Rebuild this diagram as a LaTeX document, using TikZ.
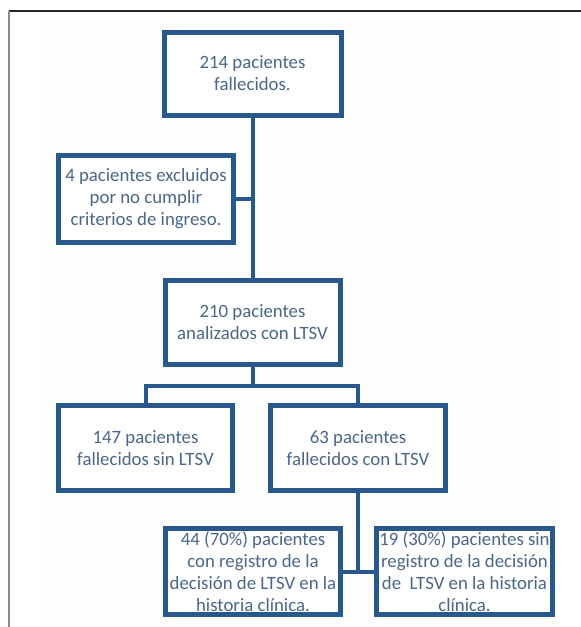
\documentclass[tikz,border=0pt]{standalone}
\usepackage{fontspec}
\setmainfont{Carlito}
\usetikzlibrary{shadows}
\definecolor{boxblue}{RGB}{40,88,140}
\definecolor{txt}{RGB}{74,102,136}
\begin{document}
\begin{tikzpicture}[x=1pt,y=-1pt,
  box/.style={draw=boxblue, line width=5pt, fill=white, text=txt, align=center,
    font=\fontsize{18.8}{22}\selectfont, inner sep=0pt,
    drop shadow={opacity=0.2, shadow xshift=1.5pt, shadow yshift=-1.5pt}},
  conn/.style={draw=boxblue, line width=4pt}]
\useasboundingbox (0,0) rectangle (581,627);
\fill[black!0.6] (40,16) rectangle (558,627);
\draw[line width=1.2pt, black!85] (9,11) -- (581,11);
\draw[line width=1.5pt, black!45] (9,11) -- (9,627);

\node[box, minimum width=177pt, minimum height=83pt] (b1) at (252.5,73.5) {214 pacientes\\fallecidos.};
\node[box, minimum width=175pt, minimum height=87pt] (b2) at (146,199) {4 pacientes excluidos\\por no cumplir\\criterios de ingreso.};
\node[box, minimum width=175pt, minimum height=84pt] (b3) at (252.5,322.5) {210 pacientes\\analizados con LTSV};
\node[box, minimum width=174pt, minimum height=85pt] (b4) at (145.5,448) {147 pacientes\\fallecidos sin LTSV};
\node[box, minimum width=175pt, minimum height=85pt] (b5) at (358,448) {63 pacientes\\fallecidos con LTSV};
\node[box, minimum width=175pt, minimum height=86pt] (b6) at (253,571.5) {44 (70\%) pacientes\\con registro de la\\decisión de LTSV en la\\historia clínica.};
\node[box, minimum width=176pt, minimum height=86pt] (b7) at (464.5,571.5) {19 (30\%) pacientes sin\\registro de la decisión\\de\ \ LTSV en la historia\\clínica.};

\coordinate (j1) at (252.5,386);
\draw[conn] (b1.south) -- (b3.north);
\draw[conn] (b2.east) -- (b2.east -| b1.south);
\draw[conn] (b3.south) -- (j1);
\draw[conn] (b4.north) |- (j1) -| (b5.north);
\draw[conn] (b5.south) -- (b5.south |- b6.east);
\draw[conn] (b6.east) -- (b7.west);
\end{tikzpicture}
\end{document}
